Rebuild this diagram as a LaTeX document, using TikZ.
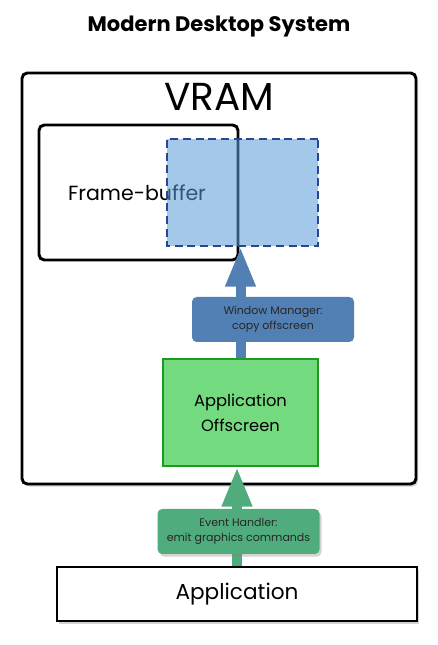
\documentclass[tikz,border=0pt]{standalone}
\usepackage{fontspec}
\setmainfont{Poppins}
\usetikzlibrary{arrows.meta,shadows}

\definecolor{bufblue}{RGB}{90,155,218}
\definecolor{dashblue}{RGB}{40,70,150}
\definecolor{wmblue}{RGB}{82,128,180}
\definecolor{offgreen}{RGB}{116,218,128}
\definecolor{offborder}{RGB}{30,155,30}
\definecolor{ehgreen}{RGB}{80,172,125}

\begin{document}
\begin{tikzpicture}[
			x=1pt, y=1pt, scale=0.75,
			every node/.style={transform shape},
			box/.style={draw, line width=2.2pt, inner sep=0pt},
			tag/.style={rounded corners=3.5pt, inner sep=0pt, minimum width=162, minimum height=45,
				align=center, text=black!85, font=\fontsize{11}{14.5}\selectfont},
			flow/.style={line width=7.5pt, -{Triangle[width=21pt,length=30pt]}},
			soft/.style={drop shadow={shadow xshift=1.5pt, shadow yshift=-2pt, opacity=0.35}},
		]
		\useasboundingbox (0,0) rectangle (438,645);

		\node[font=\bfseries\fontsize{21}{24}\selectfont] (title) at (219,618) {Modern Desktop System};

		\node[box, rounded corners=4pt, fill=white, soft, minimum width=394, minimum height=411] (vram) at (219,366.5) {};
		\node[anchor=base, font=\fontsize{39}{44}\selectfont] (vramlabel) at (219,534) {VRAM};

		\node[box, rounded corners=4pt, minimum width=199, minimum height=135] (fb) at (138.5,452.5) {};
		\node[anchor=base, font=\fontsize{20.5}{24}\selectfont] (fblabel) at (137,444) {Frame-buffer};
		\node[draw=dashblue, line width=1.5pt, dash pattern=on 6pt off 3.5pt, fill=bufblue, fill opacity=0.55,
			minimum width=151, minimum height=107] (buf) at (242,452.5) {};

		\node[draw=offborder, line width=1.5pt, fill=offgreen, minimum width=155, minimum height=107,
			align=center, font=\fontsize{16.3}{25}\selectfont] (off) at (240.5,232.5) {Application\\Offscreen};

		\node[box, fill=white, soft, minimum width=360, minimum height=54,
			font=\fontsize{21.6}{26}\selectfont] (app) at (237,51) {Application};

		\draw[flow, wmblue] (off.north) -- (off.north |- buf.south);
		\node[tag, fill=wmblue] (wm) at (273,325.5) {Window Manager:\\copy offscreen};

		\draw[flow, ehgreen] (app.north) -- (app.north |- off.south);
		\node[tag, fill=ehgreen, soft] (eh) at (238.5,113.5) {Event Handler:\\emit graphics commands};
	\end{tikzpicture}
\end{document}
